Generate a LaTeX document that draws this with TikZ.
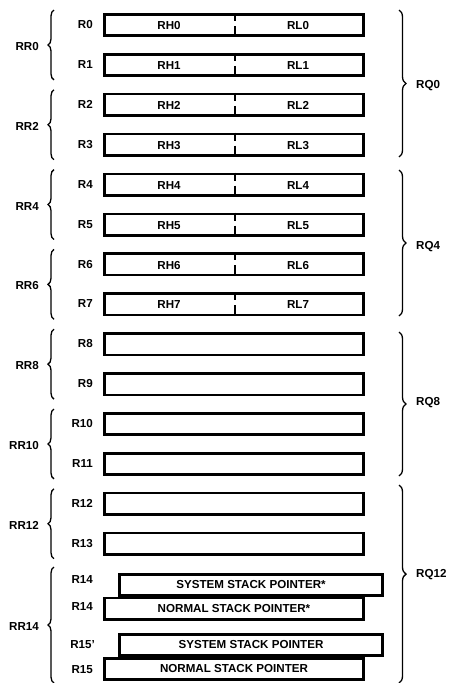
\documentclass[tikz,border=0pt]{standalone}
\usepackage{fontspec}
\setmainfont{Liberation Sans}
\usetikzlibrary{decorations.pathreplacing}
\begin{document}
\begin{tikzpicture}[x=1pt,y=-1pt,
  lab/.style={font=\fontsize{11.6}{13}\selectfont\bfseries, inner sep=0pt, text height=0.72em, text depth=0pt},
  regbox/.style={draw, line width=2.6pt, fill=white, minimum width=259.4pt, minimum height=21.4pt, inner sep=0pt, font=\fontsize{11.6}{13}\selectfont\bfseries, text height=0.72em, text depth=0pt},
  sysbox/.style={regbox, minimum width=263.4pt},
  divline/.style={line width=1.3pt, dash pattern=on 8pt off 5pt on 30pt},
  lbrace/.style={decorate, decoration={brace, amplitude=6pt}, line width=1.3pt},
  rbrace/.style={decorate, decoration={brace, amplitude=7pt}, line width=1.3pt},
]
\useasboundingbox (0,0) rectangle (450,683);
\coordinate (mid) at (235,0);

% regular registers R0..R13
\foreach \i in {0,...,13}{
  \pgfmathsetmacro\c{25+39.9*\i}
  \node[regbox] (b\i) at (234,\c) {};
  \node[lab, anchor=east] (r\i) at (93,\c) {R\i};
}
% byte halves R0..R7
\foreach \i in {0,...,7}{
  \pgfmathsetmacro\c{25+39.9*\i}
  \draw[divline] (b\i.north -| mid) -- (b\i.south -| mid);
  \node[lab] (rh\i) at (169,\c+1) {RH\i};
  \node[lab] (rl\i) at (298,\c+1) {RL\i};
}

% stack pointers
\node[sysbox] (s14) at (251,585) {SYSTEM STACK POINTER*};
\node[regbox] (n14) at (234,608.5) {NORMAL STACK POINTER*};
\node[sysbox] (s15) at (251,645) {SYSTEM STACK POINTER};
\node[regbox] (n15) at (234,669) {NORMAL STACK POINTER};
\node[lab, anchor=east] (r14a) at (93,580) {R14};
\node[lab, anchor=east] (r14b) at (93,607) {R14};
\node[lab, anchor=east] (r15a) at (95,645) {R15'};
\node[lab, anchor=east] (r15b) at (93,670) {R15};

% left braces RR
\foreach \k in {0,...,6}{
  \pgfmathtruncatemacro\a{2*\k}
  \pgfmathtruncatemacro\b{2*\k+1}
  \pgfmathsetmacro\t{25+39.9*\a-15}
  \pgfmathsetmacro\u{25+39.9*\b+15}
  \pgfmathsetmacro\m{(\t+\u)/2+2}
  \draw[lbrace] (54,\u) -- (54,\t);
  \node[lab, anchor=east] (rr\a) at (39,\m) {RR\a};
}
\draw[lbrace] (54,683) -- (54,567);
\node[lab, anchor=east] (rr14) at (39,627) {RR14};

% right braces RQ
\draw[rbrace] (399,10) -- (399,157);
\node[lab, anchor=west] (rq0) at (416,85) {RQ0};
\draw[rbrace] (399,170) -- (399,316);
\node[lab, anchor=west] (rq4) at (416,246) {RQ4};
\draw[rbrace] (399,332) -- (399,476);
\node[lab, anchor=west] (rq8) at (416,402) {RQ8};
\draw[decorate, decoration={brace, amplitude=7pt, aspect=0.45}, line width=1.3pt] (399,485) -- (399,683);
\node[lab, anchor=west] (rq12) at (416,574) {RQ12};
\end{tikzpicture}
\end{document}
